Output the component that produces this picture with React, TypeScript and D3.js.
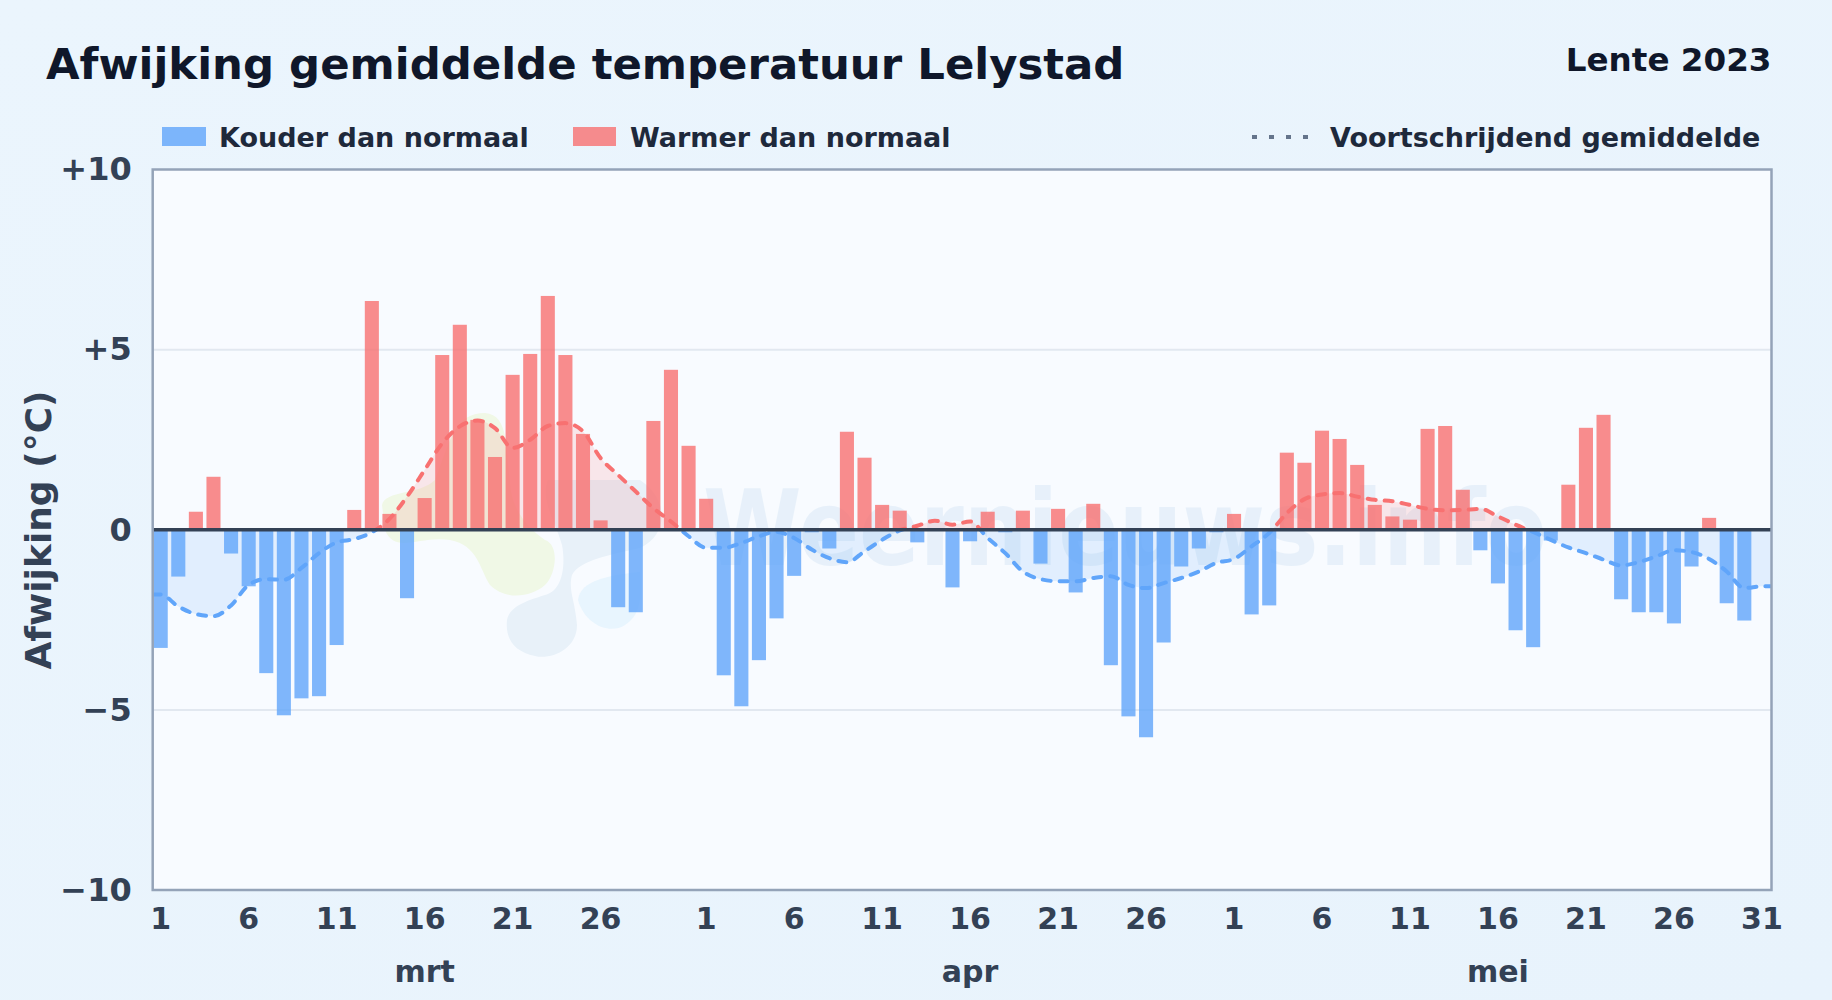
import React, { useEffect, useRef } from 'react';
import * as d3 from 'd3';

const width = 1832;
const height = 1000;
const marginLeft = 152.7;
const marginRight = 60.5;
const marginTop = 169.5;
const marginBottom = 110;

const months = ['mrt', 'apr', 'mei'];

// Daily deviation from normal (°C), one array per month
const marchValues = [-3.28, -1.3, 0.5, 1.47, -0.66, -1.57, -3.98, -5.15, -4.68, -4.62, -3.2, 0.55, 6.35, 0.44, -1.9, 0.88, 4.85, 5.69, 3.05, 2.02, 4.3, 4.88, 6.49, 4.85, 2.66, 0.26, -2.15, -2.29, 3.02, 4.44, 2.33];
const aprilValues = [0.86, -4.04, -4.9, -3.62, -2.46, -1.28, -0.07, -0.52, 2.72, 2.0, 0.69, 0.53, -0.35, 0, -1.6, -0.32, 0.5, -0.07, 0.53, -0.94, 0.58, -1.74, 0.72, -3.76, -5.18, -5.76, -3.13, -1.02, -0.52, -0.07];
const mayValues = [0.44, -2.35, -2.1, 2.14, 1.86, 2.75, 2.52, 1.8, 0.69, 0.37, 0.28, 2.8, 2.88, 1.11, -0.57, -1.49, -2.79, -3.26, -0.3, 1.25, 2.83, 3.19, -1.93, -2.29, -2.29, -2.6, -1.02, 0.33, -2.04, -2.52, 0];

// Moving average
const marchAvg = [-1.8, -2.13, -2.34, -2.4, -2.1, -1.53, -1.37, -1.39, -1.06, -0.65, -0.35, -0.26, -0.07, 0.3, 0.92, 1.66, 2.4, 2.87, 3.03, 2.82, 2.27, 2.5, 2.88, 2.96, 2.73, 1.99, 1.52, 1.06, 0.6, 0.23, -0.18];
const aprilAvg = [-0.5, -0.5, -0.37, -0.18, -0.06, -0.23, -0.55, -0.79, -0.9, -0.6, -0.28, -0.02, 0.11, 0.25, 0.14, 0.23, -0.23, -0.65, -1.16, -1.37, -1.43, -1.43, -1.34, -1.29, -1.53, -1.62, -1.48, -1.34, -1.16, -0.92];
const mayAvg = [-0.81, -0.46, -0.09, 0.46, 0.85, 0.98, 1.02, 0.92, 0.83, 0.79, 0.69, 0.58, 0.54, 0.55, 0.58, 0.37, 0.14, -0.06, -0.28, -0.49, -0.65, -0.83, -0.99, -0.9, -0.74, -0.57, -0.62, -0.81, -1.16, -1.62, -1.57];

const dayLabels = [1, 6, 11, 16, 21, 26];
const lastMayLabel = 31;
const yTicks = [-10, -5, 0, 5, 10];
const yDomain = [-10, 10];

const legendCold = 'Kouder dan normaal';
const legendWarm = 'Warmer dan normaal';
const legendAvg = 'Voortschrijdend gemiddelde';

const blue = '#60a5fa';
const red = '#f87171';
const font = '"DejaVu Sans", sans-serif';

interface DayPoint {
	index: number;
	month: number;
	day: number;
	value: number;
	avg: number;
}

const monthArrays = [marchValues, aprilValues, mayValues];
const avgArrays = [marchAvg, aprilAvg, mayAvg];

const days: DayPoint[] = monthArrays.flatMap((values, m) => values.map((value, i) => ({
	index: 0,
	month: m,
	day: i + 1,
	value,
	avg: avgArrays[m][i],
})));
days.forEach((d, i) => { d.index = i; });

const App: React.FC = () => {
	const svgRef = useRef<SVGSVGElement | null>(null);

	useEffect(() => {
		if (!svgRef.current) return;
		const svg = d3.select(svgRef.current);

		// The bars sit a little left of the exact plot box in the original
		const x = d3.scaleBand<number>()
			.domain(days.map(d => d.index))
			.range([marginLeft - 0.8, width - marginRight - 0.8])
			.paddingInner(0.2)
			.paddingOuter(0.1);

		const y = d3.scaleLinear()
			.domain(yDomain)
			.range([height - marginBottom, marginTop]);

		const center = (i: number) => (x(i) ?? 0) + x.bandwidth() / 2;
		const plotW = width - marginLeft - marginRight;
		const plotH = height - marginTop - marginBottom;

		const defs = svg.append('defs');
		const gradient = defs.append('linearGradient')
			.attr('id', 'page-bg')
			.attr('x1', 0).attr('y1', 0).attr('x2', 1).attr('y2', 1);
		gradient.append('stop').attr('offset', '0%').attr('stop-color', '#ebf5fd');
		gradient.append('stop').attr('offset', '100%').attr('stop-color', '#e8f3fc');

		defs.append('clipPath').attr('id', 'above-zero')
			.append('rect')
			.attr('x', marginLeft).attr('y', marginTop)
			.attr('width', plotW).attr('height', y(0) - marginTop);
		defs.append('clipPath').attr('id', 'below-zero')
			.append('rect')
			.attr('x', marginLeft).attr('y', y(0))
			.attr('width', plotW).attr('height', height - marginBottom - y(0));

		svg.append('rect')
			.attr('width', width).attr('height', height)
			.attr('fill', 'url(#page-bg)');

		svg.append('rect')
			.attr('x', marginLeft).attr('y', marginTop)
			.attr('width', plotW).attr('height', plotH)
			.attr('fill', '#f8fbff');

		// Watermark logo and text
		const logo = svg.append('g');
		logo.append('path')
			.attr('d', 'M382,505C385,490 420,495 435,480C450,440 455,413 485,413C510,415 505,450 510,480C510,510 530,530 545,540C560,545 556,575 545,585C530,598 505,600 490,585C480,570 478,545 450,540C420,535 395,555 385,530Z')
			.attr('fill', '#f0f8e6');
		logo.append('path')
			.attr('d', 'M548,480L640,480C670,500 668,535 640,548C610,555 580,560 572,575C568,590 575,600 577,625C577,650 550,660 535,656C515,652 505,640 507,620C510,605 530,600 545,595C565,590 565,560 562,545C555,520 540,500 548,480Z')
			.attr('fill', '#e8f1f9');
		logo.append('path')
			.attr('d', 'M578,600C580,580 610,575 640,572C642,600 640,615 625,625C610,635 585,625 578,600Z')
			.attr('fill', '#e8f5fe');
		svg.append('text')
			.attr('x', 703).attr('y', 565)
			.attr('font-family', font)
			.attr('font-weight', 700)
			.attr('font-size', 105)
			.attr('textLength', 844)
			.attr('lengthAdjust', 'spacingAndGlyphs')
			.attr('fill', '#2f7fc9')
			.attr('opacity', 0.08)
			.text('Weernieuws.info');

		// Gridlines
		svg.append('g')
			.selectAll('line')
			.data(yTicks.filter(t => t !== 0 && Math.abs(t) !== 10))
			.join('line')
			.attr('x1', marginLeft)
			.attr('x2', width - marginRight)
			.attr('y1', d => y(d))
			.attr('y2', d => y(d))
			.attr('stroke', '#e2e8f0')
			.attr('stroke-width', 2);

		// Area and dashed line of the moving average, split at zero
		const avgPoints = [
			{ px: marginLeft, avg: days[0].avg },
			...days.map(d => ({ px: center(d.index), avg: d.avg })),
			{ px: width - marginRight, avg: days[days.length - 1].avg },
		];
		const area = d3.area<{ px: number; avg: number }>()
			.x(d => d.px)
			.y0(y(0))
			.y1(d => y(d.avg))
			.curve(d3.curveMonotoneX);
		const line = d3.line<{ px: number; avg: number }>()
			.x(d => d.px)
			.y(d => y(d.avg))
			.curve(d3.curveMonotoneX);

		svg.append('path')
			.datum(avgPoints)
			.attr('clip-path', 'url(#above-zero)')
			.attr('fill', red)
			.attr('fill-opacity', 0.15)
			.attr('d', area);
		svg.append('path')
			.datum(avgPoints)
			.attr('clip-path', 'url(#below-zero)')
			.attr('fill', blue)
			.attr('fill-opacity', 0.15)
			.attr('d', area);

		// Bars
		svg.append('g')
			.selectAll('rect')
			.data(days.filter(d => d.value !== 0))
			.join('rect')
			.attr('x', d => x(d.index) ?? 0)
			.attr('y', d => y(Math.max(d.value, 0)))
			.attr('width', x.bandwidth())
			.attr('height', d => Math.abs(y(d.value) - y(0)))
			.attr('fill', d => d.value < 0 ? blue : red)
			.attr('fill-opacity', 0.8);

		[['above-zero', red], ['below-zero', blue]].forEach(([clip, color]) => {
			svg.append('path')
				.datum(avgPoints)
				.attr('clip-path', `url(#${clip})`)
				.attr('fill', 'none')
				.attr('stroke', color)
				.attr('stroke-width', 4)
				.attr('stroke-linecap', 'round')
				.attr('stroke-dasharray', '8 9')
				.attr('d', line);
		});

		// Zero line
		svg.append('line')
			.attr('x1', marginLeft)
			.attr('x2', width - marginRight)
			.attr('y1', y(0))
			.attr('y2', y(0))
			.attr('stroke', '#334155')
			.attr('stroke-width', 3.5);

		// Plot border
		svg.append('rect')
			.attr('x', marginLeft).attr('y', marginTop)
			.attr('width', plotW).attr('height', plotH)
			.attr('fill', 'none')
			.attr('stroke', '#94a3b8')
			.attr('stroke-width', 2.5);

		// Y axis
		svg.append('g')
			.attr('transform', `translate(${marginLeft},0)`)
			.call(d3.axisLeft(y)
				.tickValues(yTicks)
				.tickSize(0)
				.tickPadding(21)
				.tickFormat(d => {
					const v = +d;
					return v > 0 ? `+${v}` : v < 0 ? `\u2212${-v}` : '0';
				}))
			.call(g => g.select('.domain').remove())
			.call(g => g.selectAll('text')
				.attr('font-family', font)
				.attr('font-weight', 700)
				.attr('font-size', 32)
				.attr('fill', '#334155'));

		// X axis
		const tickIndices = days
			.filter(d => dayLabels.includes(d.day) || (d.month === 2 && d.day === lastMayLabel))
			.map(d => d.index);
		svg.append('g')
			.attr('transform', `translate(0,${height - marginBottom})`)
			.call(d3.axisBottom(x)
				.tickValues(tickIndices)
				.tickSize(0)
				.tickPadding(18)
				.tickFormat(d => String(days[+d].day)))
			.call(g => g.select('.domain').remove())
			.call(g => g.selectAll('text')
				.attr('font-family', font)
				.attr('font-weight', 700)
				.attr('font-size', 30)
				.attr('fill', '#334155'));

		// Month labels sit under day 16 of each month
		svg.append('g')
			.selectAll('text')
			.data(months)
			.join('text')
			.attr('x', (_, m) => center(days.find(d => d.month === m && d.day === 16)!.index))
			.attr('y', 982)
			.attr('text-anchor', 'middle')
			.attr('font-family', font)
			.attr('font-weight', 700)
			.attr('font-size', 30)
			.attr('fill', '#334155')
			.text(d => d);

		// Y axis title
		svg.append('text')
			.attr('transform', `translate(51,530) rotate(-90)`)
			.attr('text-anchor', 'middle')
			.attr('font-family', font)
			.attr('font-weight', 700)
			.attr('font-size', 36)
			.attr('fill', '#334155')
			.text('Afwijking (°C)');

		// Title
		svg.append('text')
			.attr('x', 46).attr('y', 79)
			.attr('font-family', font)
			.attr('font-weight', 700)
			.attr('font-size', 43.4)
			.attr('fill', '#0f172a')
			.text('Afwijking gemiddelde temperatuur Lelystad');
		svg.append('text')
			.attr('x', width - marginRight).attr('y', 71)
			.attr('text-anchor', 'end')
			.attr('font-family', font)
			.attr('font-weight', 700)
			.attr('font-size', 32.6)
			.attr('fill', '#0f172a')
			.text('Lente 2023');

		// Legend
		const legend = svg.append('g')
			.attr('font-family', font)
			.attr('font-weight', 700)
			.attr('font-size', 27)
			.attr('fill', '#1e293b');
		legend.append('rect').attr('x', 162).attr('y', 127).attr('width', 44).attr('height', 19).attr('fill', blue).attr('fill-opacity', 0.8);
		legend.append('text').attr('x', 219).attr('y', 146.5).text(legendCold);
		legend.append('rect').attr('x', 573).attr('y', 127).attr('width', 43).attr('height', 19).attr('fill', red).attr('fill-opacity', 0.8);
		legend.append('text').attr('x', 630).attr('y', 146.5).text(legendWarm);
		legend.append('line')
			.attr('x1', 1252).attr('x2', 1310)
			.attr('y1', 137).attr('y2', 137)
			.attr('stroke', '#64748b')
			.attr('stroke-width', 4)
			.attr('stroke-dasharray', '5 12');
		legend.append('text').attr('x', 1330).attr('y', 146.5).text(legendAvg);

		return () => { svg.selectAll('*').remove(); };
	}, []);

	return (
		<svg
			ref={svgRef}
			width={width}
			height={height}
			viewBox={`0 0 ${width} ${height}`}
			style={{ position: 'absolute', left: 0, top: 0, display: 'block' }}
		/>
	);
};

export default App;
